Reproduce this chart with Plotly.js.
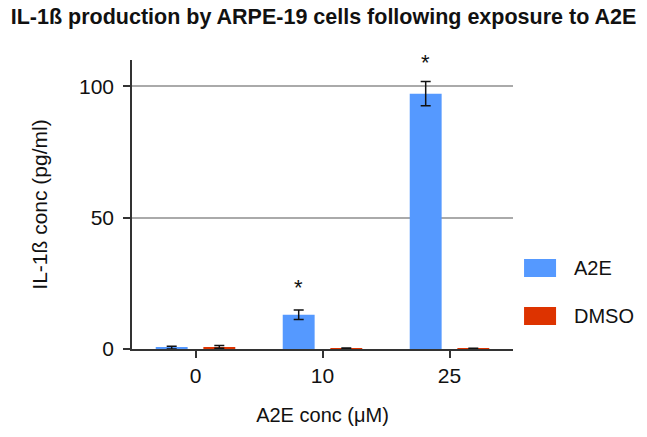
<!DOCTYPE html>
<html>
<head>
<meta charset="utf-8">
<script src="https://cdn.plot.ly/plotly-3.0.1.min.js"></script>
<style>
  body { margin: 0; background: #fff; }
  #chart { width: 647px; height: 437px; }
</style>
</head>
<body>
<div id="chart"></div>
<script>
// concentrations of A2E (uM)
var conc = ["0", "10", "25"];

var a2e = [0.5, 13, 97.2];
var a2eErr = [0.5, 1.8, 4.6];

var dmso = [0.8, 0.2, 0.3];
var dmsoErr = [0.5, 0.2, 0];

var seriesNames = ["A2E", "DMSO"];
var seriesColors = ["#5599ff", "#dd3300"];

// asterisks for significant points
var starValues = [null, 23.5, 109];

var font = "Liberation Sans, Arial, sans-serif";

var traceA2E = {
    x: conc,
    y: a2e,
    type: "bar",
    name: seriesNames[0],
    marker: { color: seriesColors[0] },
    error_y: { type: "data", array: a2eErr, color: "#111", thickness: 1.5, width: 5 },
    showlegend: false
};

var traceDMSO = {
    x: conc,
    y: dmso,
    type: "bar",
    name: seriesNames[1],
    marker: { color: seriesColors[1] },
    error_y: { type: "data", array: dmsoErr, color: "#111", thickness: 1.5, width: 5 },
    showlegend: false
};

var annotations = [];
var shapes = [];

// stars sit above the A2E bars
starValues.forEach(function (v, i) {
    if (v === null) return;
    annotations.push({
        x: i - 0.19, y: v, xref: "x", yref: "y",
        text: "*", showarrow: false,
        font: { family: font, size: 22, color: "#111" }
    });
});

// hand made legend with big swatches
var legendTop = [0.311, 0.145];
seriesNames.forEach(function (name, i) {
    shapes.push({
        type: "rect", xref: "paper", yref: "paper",
        x0: 1.029, x1: 1.113, y0: legendTop[i] - 0.062, y1: legendTop[i],
        fillcolor: seriesColors[i], line: { width: 0 }
    });
    annotations.push({
        x: 1.155, y: legendTop[i] - 0.031, xref: "paper", yref: "paper",
        xanchor: "left", yanchor: "middle",
        text: name, showarrow: false,
        font: { family: font, size: 20, color: "#111" }
    });
});

var layout = {
    width: 647,
    height: 437,
    margin: { l: 132, r: 134, t: 60, b: 88 },
    paper_bgcolor: "#fff",
    plot_bgcolor: "#fff",
    font: { family: font, color: "#111" },
    title: {
        text: "<b>IL-1ß production by ARPE-19 cells following exposure to A2E</b>",
        font: { family: font, size: 21.5, color: "#111" },
        x: 0.5, xanchor: "center", y: 0.962, yanchor: "middle"
    },
    barmode: "group",
    bargap: 0.25,
    bargroupgap: 0.33,
    xaxis: {
        type: "category",
        range: [-0.5, 2.5],
        showline: true, linecolor: "#333", linewidth: 1.5,
        ticks: "outside", ticklen: 7, tickwidth: 1.5, tickcolor: "#333",
        tickfont: { family: font, size: 21, color: "#111" },
        showgrid: false,
        title: { text: "A2E conc (μM)", font: { family: font, size: 20, color: "#111" }, standoff: 22 }
    },
    yaxis: {
        range: [0, 110],
        tickvals: [0, 50, 100],
        showline: true, linecolor: "#333", linewidth: 1.5,
        ticks: "outside", ticklen: 7, tickwidth: 1.5, tickcolor: "#333",
        ticklabelstandoff: 5,
        tickfont: { family: font, size: 21, color: "#111" },
        showgrid: true, gridcolor: "#aaaaaa", gridwidth: 1.5,
        zeroline: false,
        title: { text: "IL-1ß conc (pg/ml)", font: { family: font, size: 21, color: "#111" }, standoff: 26 }
    },
    annotations: annotations,
    shapes: shapes
};

Plotly.newPlot("chart", [traceA2E, traceDMSO], layout, { displayModeBar: false });
</script>
</body>
</html>
